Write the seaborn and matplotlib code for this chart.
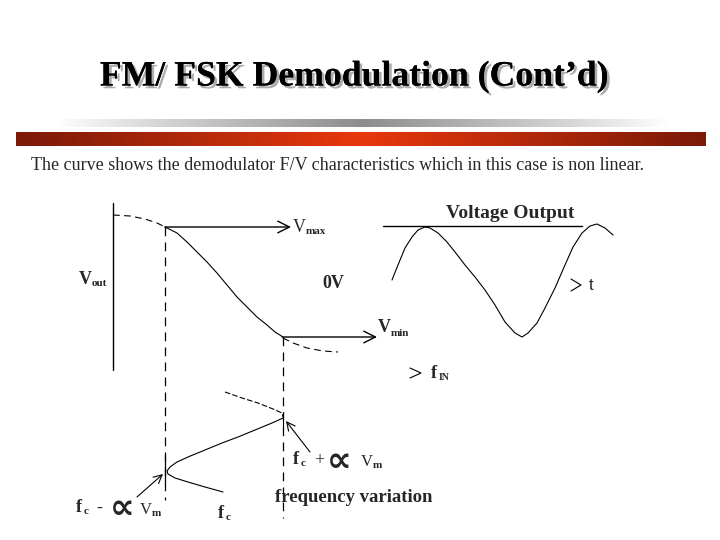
import matplotlib
matplotlib.use("Agg")
import matplotlib.pyplot as plt
import matplotlib.patheffects as pe
import numpy as np
import seaborn as sns

sns.set_style("white")
plt.rcParams["font.family"] = ["Liberation Serif", "DejaVu Serif"]

# ---- curve points (pixel coords, y downwards)
fv_flat_x = [113, 130, 145, 157, 165]
fv_flat_y = [215, 216, 219, 223, 227]
fv_x = [165, 177, 187, 197, 207, 217, 227, 237, 247, 257, 267, 275, 283]
fv_y = [227, 233, 242, 252, 262, 273, 285, 297, 307, 317, 325, 332, 337]
fv_tail_x = [283, 293, 307, 323, 338]
fv_tail_y = [338, 343, 348, 351, 352]

sine_x = [392, 398, 405, 412, 418, 425, 430, 438, 447, 455, 465, 475, 485, 495, 505,
          515, 522, 528, 537, 545, 555, 565, 573, 582, 590, 597, 605, 613]
sine_y = [280, 265, 248, 237, 230, 227, 228, 233, 242, 252, 265, 277, 290, 305, 322,
          333, 337, 333, 323, 308, 288, 265, 247, 233, 226, 224, 228, 235]

fm_up_x = [225, 242, 258, 273, 282, 283]
fm_up_y = [392, 398, 403, 409, 413, 417]
fm_x = [283, 272, 255, 238, 222, 205, 188, 177, 170, 167, 168, 175, 188, 205, 223]
fm_y = [418, 423, 430, 437, 443, 450, 457, 462, 467, 471, 474, 478, 482, 487, 492]

axis_x, axis_top, axis_bot = 113, 203, 370
fmin_x, fmin_top, fmin_bot = 165, 227, 500
fmax_x, fmax_top, fmax_bot = 283, 337, 518

vmax_y, vmax_x0, vmax_x1 = 227, 165, 291
vmin_y, vmin_x0, vmin_x1 = 337, 282, 377
vout_ref_y, vout_ref_x0, vout_ref_x1 = 226, 383, 582

fig = plt.figure(figsize=(7.2, 5.4), dpi=100)
ax = fig.add_axes([0, 0, 1, 1])
ax.set_xlim(0, 720)
ax.set_ylim(540, 0)
ax.axis("off")

# ---- decorative bars
red = np.array([[0.48, 0.10, 0.03], [0.91, 0.22, 0.05], [0.48, 0.10, 0.03]])
t = np.linspace(0, 1, 300)
grad_r = np.stack([np.interp(t, [0, 0.5, 1], red[:, i]) for i in range(3)], axis=-1)
ax.imshow(grad_r[None, :, :], extent=[16, 706, 146, 132], aspect="auto", zorder=1)
g = np.interp(t, [0, 0.12, 0.5, 0.85, 1], [1, 0.88, 0.55, 0.85, 1])
grad_g = np.stack([g, g, g], axis=-1)
ax.imshow(grad_g[None, :, :], extent=[55, 670, 127, 119], aspect="auto", zorder=1)

# ---- title and subtitle
title = "FM/ FSK Demodulation (Cont\u2019d)"
ax.text(354, 77, title, fontsize=25.7, fontweight="bold", ha="center", va="center",
        color="black", zorder=3,
        path_effects=[pe.withSimplePatchShadow(offset=(2, -2), shadow_rgbFace="#999999", alpha=0.8),
                      pe.Normal()])
ax.text(31, 165, "The curve shows the demodulator F/V characteristics which in this case is non linear.",
        fontsize=13, ha="left", va="center")

# ---- F/V characteristic
lw = 0.8
sns.lineplot(x=fv_flat_x, y=fv_flat_y, ax=ax, color="black", lw=lw, sort=False,
             estimator=None, linestyle=(0, (6, 4)))
sns.lineplot(x=fv_x, y=fv_y, ax=ax, color="black", lw=lw, sort=False, estimator=None)
sns.lineplot(x=fv_tail_x, y=fv_tail_y, ax=ax, color="black", lw=lw, sort=False,
             estimator=None, linestyle=(0, (6, 4)))
ax.plot([axis_x, axis_x], [axis_top, axis_bot], color="black", lw=1)
ax.plot([fmin_x, fmin_x], [fmin_top, fmin_bot], color="black", lw=0.9, linestyle=(0, (7, 5)))
ax.plot([fmax_x, fmax_x], [fmax_top, fmax_bot], color="black", lw=0.9, linestyle=(0, (7, 5)))

arrow = dict(arrowstyle="->,head_length=0.7,head_width=0.35", color="black", lw=1,
             shrinkA=0, shrinkB=0, mutation_scale=12)
ax.annotate("", xy=(vmax_x1, vmax_y), xytext=(vmax_x0, vmax_y), arrowprops=arrow)
ax.annotate("", xy=(vmin_x1, vmin_y), xytext=(vmin_x0, vmin_y), arrowprops=arrow)

# labels on the characteristic
ax.text(293, 227, "V", fontsize=13, ha="left", va="center")
ax.text(306, 232, "max", fontsize=8, fontweight="bold", ha="left", va="center")
ax.text(378, 327, "V", fontsize=13, fontweight="bold", ha="left", va="center")
ax.text(391, 334, "min", fontsize=8, fontweight="bold", ha="left", va="center")
ax.text(79, 279, "V", fontsize=13, fontweight="bold", ha="left", va="center")
ax.text(92, 284, "out", fontsize=8, fontweight="bold", ha="left", va="center")
ax.text(322, 283, "0V", fontsize=13, fontweight="bold", ha="left", va="center")

# ---- voltage output waveform
sns.lineplot(x=sine_x, y=sine_y, ax=ax, color="black", lw=lw, sort=False, estimator=None)
ax.plot([vout_ref_x0, vout_ref_x1], [vout_ref_y, vout_ref_y], color="black", lw=1)
ax.text(510, 213, "Voltage Output", fontsize=14, fontweight="bold", ha="center", va="center")

chev_t_x, chev_t_y = [571, 581, 571], [279, 285, 291]
ax.plot(chev_t_x, chev_t_y, color="black", lw=0.8)
ax.text(589, 285, "t", fontsize=12, family=["Liberation Sans", "DejaVu Sans"],
        ha="left", va="center")
chev_f_x, chev_f_y = [410, 421, 410], [368, 373, 378]
ax.plot(chev_f_x, chev_f_y, color="black", lw=0.8)
ax.text(431, 374, "f", fontsize=13, fontweight="bold", ha="left", va="center")
ax.text(439, 377, "IN", fontsize=7, fontweight="bold", ha="left", va="center")

# ---- frequency variation curve
sns.lineplot(x=fm_up_x, y=fm_up_y, ax=ax, color="black", lw=lw, sort=False,
             estimator=None, linestyle=(0, (5, 2)))
sns.lineplot(x=fm_x, y=fm_y, ax=ax, color="black", lw=lw, sort=False, estimator=None)
ax.plot([fmin_x, fmin_x], [455, 482], color="black", lw=0.9)
ax.plot([fmax_x, fmax_x], [412, 428], color="black", lw=0.8)

small_arrow = dict(arrowstyle="->,head_length=0.6,head_width=0.3", color="black", lw=0.8,
                   shrinkA=0, shrinkB=0, mutation_scale=10)
ax.annotate("", xy=(163, 474), xytext=(137, 497), arrowprops=small_arrow)
ax.annotate("", xy=(286, 421), xytext=(310, 452), arrowprops=small_arrow)

prop = ["DejaVu Sans"]
# fc + a Vm
ax.text(293, 460, "f", fontsize=13, fontweight="bold", ha="left", va="center")
ax.text(301, 464, "c", fontsize=8, fontweight="bold", ha="left", va="center")
ax.text(314, 461, "+", fontsize=13, ha="left", va="center")
ax.text(327, 461, "\u221d", fontsize=25, fontweight="bold", family=prop, ha="left", va="center")
ax.text(361, 462, "V", fontsize=12, ha="left", va="center")
ax.text(373, 465, "m", fontsize=8, fontweight="bold", ha="left", va="center")
# fc - a Vm
ax.text(76, 507, "f", fontsize=13, fontweight="bold", ha="left", va="center")
ax.text(84, 511, "c", fontsize=8, fontweight="bold", ha="left", va="center")
ax.text(96, 508, "-", fontsize=13, ha="left", va="center")
ax.text(110, 508, "\u221d", fontsize=25, fontweight="bold", family=prop, ha="left", va="center")
ax.text(140, 510, "V", fontsize=12, ha="left", va="center")
ax.text(152, 513, "m", fontsize=8, fontweight="bold", ha="left", va="center")

ax.text(275, 497, "frequency variation", fontsize=13.5, fontweight="bold", ha="left", va="center")
ax.text(218, 514, "f", fontsize=13, fontweight="bold", ha="left", va="center")
ax.text(226, 518, "c", fontsize=8, fontweight="bold", ha="left", va="center")

fig.savefig("out.png", dpi=100)
